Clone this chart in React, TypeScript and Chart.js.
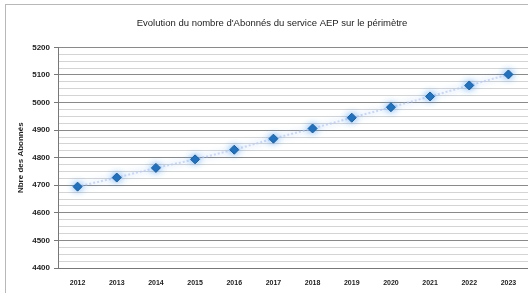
import React, { useEffect, useRef } from "react";
import { Chart, registerables } from "chart.js";

Chart.register(...registerables);

const years = ["2012", "2013", "2014", "2015", "2016", "2017", "2018", "2019", "2020", "2021", "2022", "2023"];
const subscribers = [4695, 4728, 4763, 4794, 4829, 4869, 4906, 4945, 4983, 5022, 5062, 5102];
const titleText = "Evolution du nombre d'Abonnés du service AEP sur le périmètre";
const yTitleText = "Nbre des Abonnés";
const yMin = 4400;
const yMax = 5200;

const framePlugin = {
  id: "frame",
  beforeDraw(chart: any) {
    const ctx = chart.ctx;
    ctx.save();
    ctx.fillStyle = "#ffffff";
    ctx.fillRect(0, 0, chart.width, chart.height);
    ctx.strokeStyle = "#b8b8b8";
    ctx.lineWidth = 1;
    ctx.strokeRect(5.5, 4.5, chart.width + 20, chart.height + 20);
    ctx.restore();
  },
};

const glowPlugin = {
  id: "glow",
  beforeDatasetsDraw(chart: any) {
    const ctx = chart.ctx;
    ctx.save();
    ctx.shadowColor = "rgba(70,150,240,0.85)";
    ctx.shadowBlur = 7;
  },
  afterDatasetsDraw(chart: any) {
    chart.ctx.restore();
  },
};

export default function App() {
  const ref = useRef<HTMLCanvasElement | null>(null);
  useEffect(() => {
    document.body.style.margin = "0";
    const canvas = ref.current!;
    const chart = new Chart(canvas, {
      type: "line",
      data: {
        labels: years,
        datasets: [
          {
            data: subscribers,
            borderColor: "rgba(185,200,240,0.7)",
            borderDash: [2, 2],
            borderWidth: 2,
            pointStyle: "rectRot",
            pointRadius: 4.5,
            pointBackgroundColor: "#1f6db8",
            pointBorderColor: "#1a5f9f",
            pointBorderWidth: 1,
            tension: 0,
          },
        ],
      },
      options: {
        animation: false,
        responsive: false,
        maintainAspectRatio: false,
        layout: { padding: { left: 16, right: 0, top: 0, bottom: 0 }, autoPadding: false },
        plugins: {
          legend: { display: false },
          tooltip: { enabled: false },
          title: {
            display: true,
            text: titleText,
            color: "#222",
            font: { family: "Liberation Sans", size: 9.5, weight: "normal" },
            padding: { top: 18, bottom: 18 },
          },
        },
        scales: {
          x: {
            offset: true,
            grid: { display: false, drawTicks: false },
            border: { display: true, color: "#777", width: 1 },
            ticks: {
              color: "#222",
              font: { family: "Liberation Sans", size: 7, weight: "bold" },
              padding: 11,
              maxRotation: 0,
              autoSkip: false,
            },
            afterFit(scale: any) {
              scale.height = 25;
              scale.paddingLeft = 0;
              scale.paddingRight = 0;
            },
          },
          y: {
            min: yMin,
            max: yMax,
            grid: {
              color: (c: any) => (c.tick && c.tick.value % 100 === 0 ? "#8a8a8a" : "#d4d4d4"),
              tickColor: (c: any) => (c.tick && c.tick.value % 100 === 0 ? "#777" : "rgba(0,0,0,0)"),
              tickLength: 4,
              lineWidth: 1,
            },
            border: { display: true, color: "#777", width: 1 },
            ticks: {
              stepSize: 25,
              autoSkip: false,
              color: "#222",
              padding: 4,
              font: { family: "Liberation Sans", size: 8, weight: "bold" },
              callback: (v: any) => (Number(v) % 100 === 0 ? String(v) : ""),
            },
            title: {
              display: true,
              text: yTitleText,
              color: "#222",
              font: { family: "Liberation Sans", size: 8, weight: "bold" },
              padding: { top: 0, bottom: 0 },
            },
            afterFit(scale: any) {
              scale.width = 42;
            },
          },
        },
      },
      plugins: [framePlugin, glowPlugin],
    });
    return () => chart.destroy();
  }, []);
  return (
    <div style={{ width: 528, height: 293 }}>
      <canvas ref={ref} width={528} height={293} style={{ display: "block" }} />
    </div>
  );
}
